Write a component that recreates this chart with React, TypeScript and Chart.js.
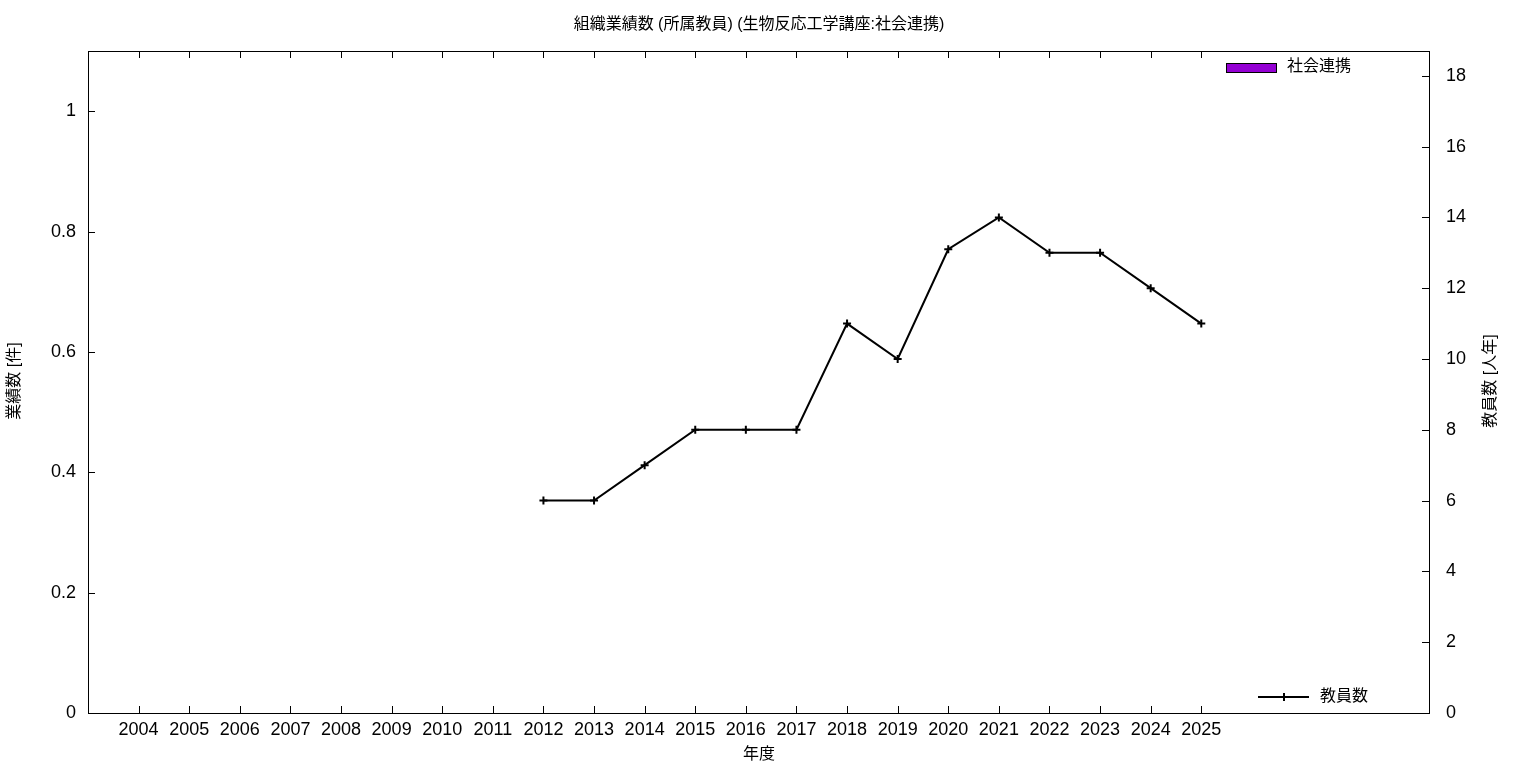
import React, { useEffect, useRef } from "react";
import { Chart, registerables } from "chart.js";

Chart.register(...registerables);

const years = [2004, 2005, 2006, 2007, 2008, 2009, 2010, 2011, 2012, 2013, 2014, 2015, 2016, 2017, 2018, 2019, 2020, 2021, 2022, 2023, 2024, 2025];
const socialValues = [0, 0, 0, 0, 0, 0, 0, 0, 0, 0, 0, 0, 0, 0, 0, 0, 0, 0, 0, 0, 0, 0];
const staffYears = [2012, 2013, 2014, 2015, 2016, 2017, 2018, 2019, 2020, 2021, 2022, 2023, 2024, 2025];
const staffCounts = [6, 6, 7, 8, 8, 8, 11, 10, 13.1, 14, 13, 13, 12, 11];
const leftTicks = [0, 0.2, 0.4, 0.6, 0.8, 1];
const rightTicks = [0, 2, 4, 6, 8, 10, 12, 14, 16, 18];

const TITLE = "組織業績数 (所属教員) (生物反応工学講座:社会連携)";
const X_TITLE = "年度";
const Y_TITLE = "業績数 [件]";
const Y2_TITLE = "教員数 [人年]";
const BAR_LABEL = "社会連携";
const LINE_LABEL = "教員数";
const FONT_FAMILY = "'Liberation Sans', 'Noto Sans CJK JP', sans-serif";

const decorPlugin = {
  id: "decor",
  afterDraw(chart: any) {
    const ctx = chart.ctx;
    const { left, right, top, bottom } = chart.chartArea;
    const xs = chart.scales.x;
    const ys = chart.scales.y;
    const y2s = chart.scales.y2;
    ctx.save();
    ctx.strokeStyle = "#000";
    ctx.lineWidth = 1;
    ctx.strokeRect(Math.round(left) + 0.5, Math.round(top) + 0.5, Math.round(right - left), Math.round(bottom - top));
    const T = 7;
    ctx.beginPath();
    years.forEach((yr) => {
      const px = Math.round(xs.getPixelForValue(yr)) + 0.5;
      ctx.moveTo(px, bottom);
      ctx.lineTo(px, bottom - T);
      ctx.moveTo(px, top);
      ctx.lineTo(px, top + T);
    });
    leftTicks.forEach((v) => {
      const py = Math.round(ys.getPixelForValue(v)) + 0.5;
      ctx.moveTo(left, py);
      ctx.lineTo(left + T, py);
    });
    rightTicks.forEach((v) => {
      const py = Math.round(y2s.getPixelForValue(v)) + 0.5;
      ctx.moveTo(right, py);
      ctx.lineTo(right - T, py);
    });
    ctx.stroke();

    ctx.fillStyle = "#000";
    ctx.font = `16px ${FONT_FAMILY}`;
    ctx.textBaseline = "middle";
    ctx.textAlign = "center";
    ctx.fillText(TITLE, 759, 25);
    ctx.fillText(X_TITLE, 759, 755);

    ctx.save();
    ctx.translate(15, 381);
    ctx.rotate(-Math.PI / 2);
    ctx.fillText(Y_TITLE, 0, 0);
    ctx.restore();

    ctx.save();
    ctx.translate(1491, 381);
    ctx.rotate(-Math.PI / 2);
    ctx.fillText(Y2_TITLE, 0, 0);
    ctx.restore();

    ctx.fillStyle = "#9400D3";
    ctx.fillRect(1226, 63, 50, 9);
    ctx.strokeStyle = "#000";
    ctx.strokeRect(1226.5, 63.5, 50, 9);
    ctx.fillStyle = "#000";
    ctx.textAlign = "left";
    ctx.fillText(BAR_LABEL, 1287, 67);

    ctx.lineWidth = 2;
    ctx.beginPath();
    ctx.moveTo(1258, 697);
    ctx.lineTo(1309, 697);
    ctx.moveTo(1284, 693);
    ctx.lineTo(1284, 701);
    ctx.stroke();
    ctx.fillText(LINE_LABEL, 1320, 697);
    ctx.restore();
  },
};

export default function App() {
  const ref = useRef<HTMLCanvasElement | null>(null);
  useEffect(() => {
    if (!ref.current) return;
    const chart = new Chart(ref.current, {
      type: "bar",
      data: {
        datasets: [
          {
            type: "bar",
            label: BAR_LABEL,
            data: years.map((yr, i) => ({ x: yr, y: socialValues[i] })),
            backgroundColor: "#9400D3",
            borderColor: "#000",
            borderWidth: 0,
            yAxisID: "y",
            xAxisID: "x",
          } as any,
          {
            type: "line",
            label: LINE_LABEL,
            data: staffYears.map((yr, i) => ({ x: yr, y: staffCounts[i] })),
            borderColor: "#000",
            backgroundColor: "#000",
            borderWidth: 2,
            pointStyle: "cross",
            pointRadius: 4,
            pointBorderWidth: 2,
            pointBorderColor: "#000",
            tension: 0,
            fill: false,
            yAxisID: "y2",
            xAxisID: "x",
          } as any,
        ],
      },
      options: {
        responsive: false,
        animation: false,
        layout: { padding: { top: 51, left: 0, right: 0, bottom: 0 } },
        plugins: {
          legend: { display: false },
          title: { display: false },
          tooltip: { enabled: false },
        },
        scales: {
          x: {
            type: "linear",
            min: 2003,
            max: 2029.5,
            offset: false,
            grid: { display: false, drawTicks: false },
            border: { display: false },
            afterBuildTicks: (s: any) => {
              s.ticks = years.map((v) => ({ value: v }));
            },
            afterFit: (s: any) => {
              s.height = 55;
            },
            ticks: {
              autoSkip: false,
              maxRotation: 0,
              minRotation: 0,
              padding: 6,
              color: "#000",
              font: { size: 18, family: FONT_FAMILY },
              callback: (v: any) => String(v),
            },
          },
          y: {
            type: "linear",
            position: "left",
            min: 0,
            max: 1.1,
            grid: { display: false, drawTicks: false },
            border: { display: false },
            afterBuildTicks: (s: any) => {
              s.ticks = leftTicks.map((v) => ({ value: v }));
            },
            afterFit: (s: any) => {
              s.width = 88;
            },
            ticks: {
              padding: 12,
              color: "#000",
              font: { size: 18, family: FONT_FAMILY },
              callback: (v: any) => String(Math.round(v * 10) / 10),
            },
          },
          y2: {
            type: "linear",
            position: "right",
            min: 0,
            max: 18.7,
            grid: { display: false, drawTicks: false },
            border: { display: false },
            afterBuildTicks: (s: any) => {
              s.ticks = rightTicks.map((v) => ({ value: v }));
            },
            afterFit: (s: any) => {
              s.width = 107;
            },
            ticks: {
              padding: 17,
              color: "#000",
              font: { size: 18, family: FONT_FAMILY },
              callback: (v: any) => String(v),
            },
          },
        },
      } as any,
      plugins: [decorPlugin],
    });
    return () => chart.destroy();
  }, []);
  return (
    <canvas
      ref={ref}
      width={1536}
      height={768}
      style={{ position: "absolute", left: 0, top: 0, display: "block", background: "#fff" }}
    />
  );
}
